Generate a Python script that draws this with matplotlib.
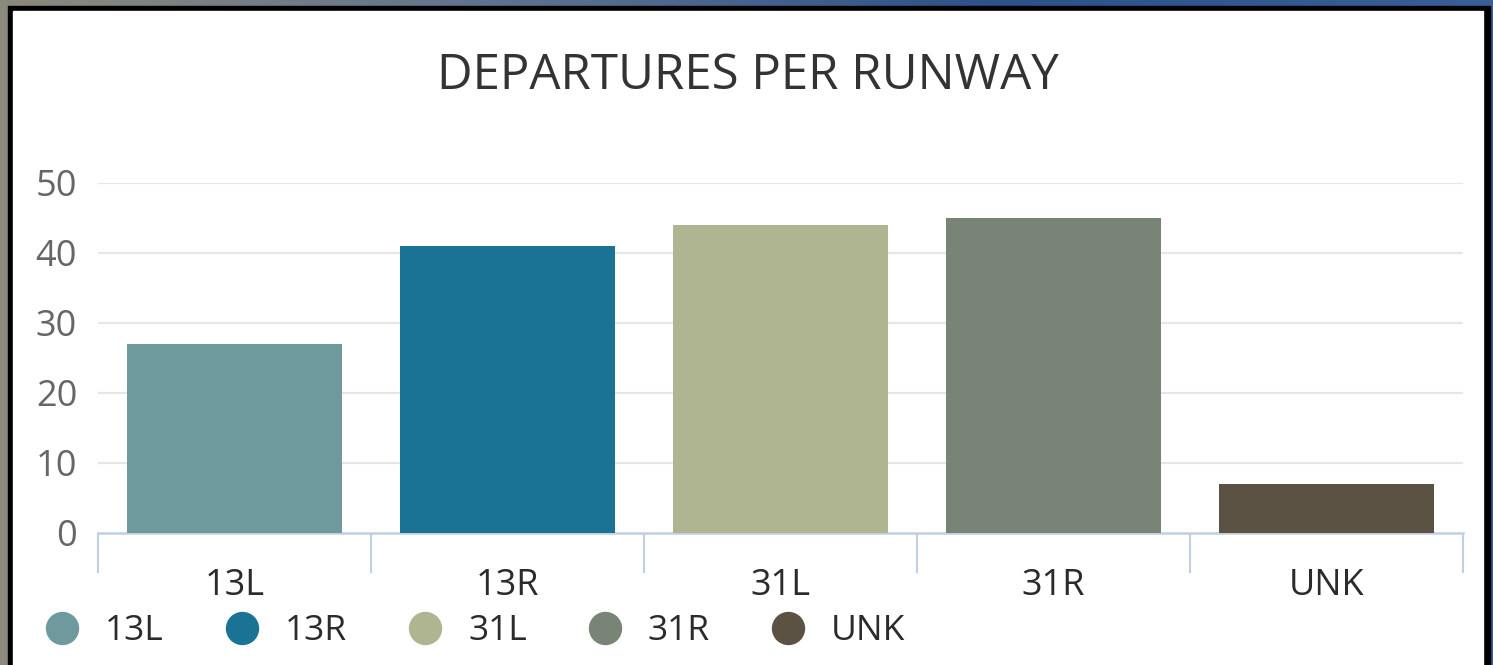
import numpy as np
import matplotlib
matplotlib.use("Agg")
import matplotlib.pyplot as plt
from matplotlib.lines import Line2D
from matplotlib.patches import Rectangle
from matplotlib.colors import LinearSegmentedColormap

# ---- data ----
runways = ["13L", "13R", "31L", "31R", "UNK"]
departures = [27, 41, 44, 45, 7]
bar_colors = ["#6f9a9d", "#1a7395", "#afb591", "#788476", "#5c5244"]
y_ticks = [0, 10, 20, 30, 40, 50]
title_text = "DEPARTURES PER RUNWAY"

plt.rcParams['font.family'] = ['Open Sans', 'DejaVu Sans']

W, H = 1493, 665
fig = plt.figure(figsize=(W / 100, H / 100), dpi=100)

# outer photo-like background (gradient) + black frame + white panel
bg = fig.add_axes([0, 0, 1, 1], zorder=-10)
grad = np.linspace(0, 1, 256)[None, :]
cmap = LinearSegmentedColormap.from_list("bg", ["#8c8a7c", "#5f7390", "#2d528a", "#3a5f96"])
bg.imshow(grad, aspect="auto", cmap=cmap, extent=[0, 1, 0, 1])
bg.set_xlim(0, 1); bg.set_ylim(0, 1); bg.axis("off")
bg.add_patch(Rectangle((8 / W, 0), (1490 - 8) / W, (H - 6) / H, color="black", transform=bg.transAxes))
bg.add_patch(Rectangle((13 / W, 0), (1483 - 13) / W, (H - 11) / H, color="white", transform=bg.transAxes))

# main axes
ax_left, ax_right = 98 / W, 1463 / W
ax_bottom, ax_top = (H - 533) / H, (H - 183) / H
ax = fig.add_axes([ax_left, ax_bottom, ax_right - ax_left, ax_top - ax_bottom])
ax.set_facecolor("none")

x = np.arange(len(runways))
ax.bar(x, departures, width=0.79, color=bar_colors, zorder=3)

ax.set_xlim(-0.5, len(runways) - 0.5)
ax.set_ylim(0, 50)
ax.set_yticks(y_ticks)
ax.set_yticklabels([str(v) for v in y_ticks])
for v in y_ticks[1:]:
    ax.axhline(v, color="#e6e6e6", linewidth=1.6, zorder=1)

for s in ["top", "right", "left"]:
    ax.spines[s].set_visible(False)
ax.spines["bottom"].set_color("#c0d0e0")
ax.spines["bottom"].set_linewidth(1.8)

ax.set_xticks(x)
ax.set_xticklabels(runways)
ax.set_xticks(np.arange(-0.5, len(runways)), minor=True)
ax.tick_params(axis="x", which="major", length=0, pad=25, labelsize=26, labelcolor="#2b2b2b")
ax.tick_params(axis="x", which="minor", length=29, width=1.5, color="#c0d0e0", direction="out")
ax.tick_params(axis="y", length=0, pad=15, labelsize=26, labelcolor="#666666")

fig.text(748 / W, 1 - 76 / H, title_text, ha="center", va="center",
         fontsize=35.5, color="#333333")

handles = [Line2D([0], [0], marker="o", linestyle="", markersize=23,
                  markerfacecolor=c, markeredgecolor=c) for c in bar_colors]
leg = fig.legend(handles, runways, loc="center left",
                 bbox_to_anchor=(44 / W, 1 - 631 / H), ncol=len(runways),
                 frameon=False, fontsize=25.5, handlelength=1.0,
                 handletextpad=0.72, columnspacing=1.7,
                 borderpad=0, borderaxespad=0)
for t in leg.get_texts():
    t.set_color("#2b2b2b")

fig.savefig("out.png", dpi=100)
